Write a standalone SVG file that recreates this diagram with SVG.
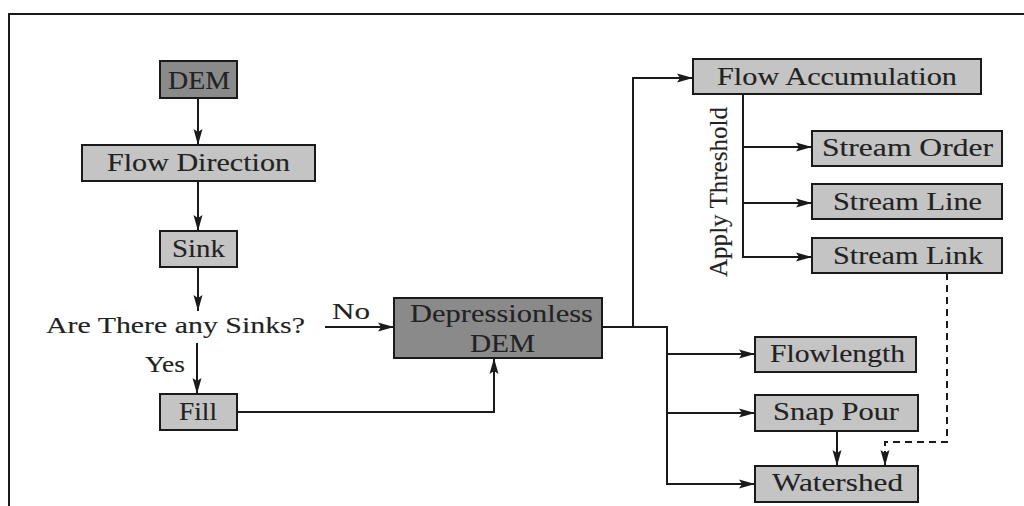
<svg xmlns="http://www.w3.org/2000/svg" width="1024" height="506" viewBox="0 0 1024 506">
<style>
.frame{fill:none;stroke:#1a1a1a;stroke-width:2}
.dark{fill:#8a8a8a;stroke:#1a1a1a;stroke-width:2}
.light{fill:#c4c4c4;stroke:#1a1a1a;stroke-width:2}
.t{font-family:"Liberation Serif","DejaVu Serif",serif;font-size:26px;fill:#222;stroke:#222;stroke-width:0.12}
.lbl{font-family:"Liberation Serif","DejaVu Serif",serif;font-size:24px;fill:#222;stroke:#222;stroke-width:0.12}
.c{fill:none;stroke:#1a1a1a;stroke-width:2}
.d{fill:none;stroke:#1a1a1a;stroke-width:2;stroke-dasharray:7 5}
</style>
<defs>
<marker id="ah" viewBox="0 0 16 11" refX="16" refY="5.5" markerWidth="16" markerHeight="11" markerUnits="userSpaceOnUse" orient="auto">
<path d="M0,1 L16,5.5 L0,10 L3,5.5 z" fill="#1a1a1a"/>
</marker>
</defs>
<rect width="1024" height="506" fill="#ffffff"/>
<path class="frame" d="M9,506 V14 H1024"/>

<g id="connectors">
<path class="c" d="M198,98 V145" marker-end="url(#ah)"/>
<path class="c" d="M198,181 V231" marker-end="url(#ah)"/>
<path class="c" d="M198,267 V311" marker-end="url(#ah)"/>
<path class="c" d="M197,343 V394" marker-end="url(#ah)"/>
<path class="c" d="M325,327 H394" marker-end="url(#ah)"/>
<path class="c" d="M237,412 H494 V358" marker-end="url(#ah)"/>
<path class="c" d="M602,327 H667 V484 H755" marker-end="url(#ah)"/>
<path class="c" d="M667,354 H755" marker-end="url(#ah)"/>
<path class="c" d="M667,413 H755" marker-end="url(#ah)"/>
<path class="c" d="M633,327 V78 H693" marker-end="url(#ah)"/>
<path class="c" d="M743,94 V257 H812" marker-end="url(#ah)"/>
<path class="c" d="M743,147 H812" marker-end="url(#ah)"/>
<path class="c" d="M743,203 H812" marker-end="url(#ah)"/>
<path class="c" d="M837,431 V466" marker-end="url(#ah)"/>
<path class="d" d="M947,273 V442 H885 V466" marker-end="url(#ah)"/>
</g>

<g id="labels">
<text class="lbl" x="46" y="333" textLength="259" lengthAdjust="spacingAndGlyphs">Are There any Sinks?</text>
<text class="lbl" x="332" y="319" textLength="38" lengthAdjust="spacingAndGlyphs">No</text>
<text class="lbl" x="145" y="372" textLength="40" lengthAdjust="spacingAndGlyphs">Yes</text>
<text class="lbl" style="font-size:26px" transform="translate(727,277) rotate(-90)" x="0" y="0" textLength="170" lengthAdjust="spacingAndGlyphs">Apply Threshold</text>
</g>

<g id="dem"><rect class="dark" x="160" y="61" width="77" height="37"/><text class="t" x="168" y="89" textLength="62" lengthAdjust="spacingAndGlyphs">DEM</text></g>
<g id="flow-direction"><rect class="light" x="82" y="145" width="233" height="36"/><text class="t" x="107" y="171" textLength="183" lengthAdjust="spacingAndGlyphs">Flow Direction</text></g>
<g id="sink"><rect class="light" x="160" y="231" width="77" height="36"/><text class="t" x="172" y="257" textLength="53" lengthAdjust="spacingAndGlyphs">Sink</text></g>
<g id="fill"><rect class="light" x="160" y="394" width="77" height="36"/><text class="t" x="179" y="420" textLength="38" lengthAdjust="spacingAndGlyphs">Fill</text></g>
<g id="depressionless-dem"><rect class="dark" x="394" y="298" width="208" height="60"/><text class="t" x="410" y="322" textLength="183" lengthAdjust="spacingAndGlyphs">Depressionless</text><text class="t" x="470" y="352" textLength="65" lengthAdjust="spacingAndGlyphs">DEM</text></g>
<g id="flow-accumulation"><rect class="light" x="693" y="59" width="288" height="35"/><text class="t" x="717" y="85" textLength="240" lengthAdjust="spacingAndGlyphs">Flow Accumulation</text></g>
<g id="stream-order"><rect class="light" x="812" y="131" width="190" height="35"/><text class="t" x="822" y="156" textLength="171" lengthAdjust="spacingAndGlyphs">Stream Order</text></g>
<g id="stream-line"><rect class="light" x="812" y="184" width="190" height="35"/><text class="t" x="833" y="210" textLength="149" lengthAdjust="spacingAndGlyphs">Stream Line</text></g>
<g id="stream-link"><rect class="light" x="812" y="238" width="190" height="35"/><text class="t" x="833" y="264" textLength="150" lengthAdjust="spacingAndGlyphs">Stream Link</text></g>
<g id="flowlength"><rect class="light" x="755" y="337" width="161" height="35"/><text class="t" x="770" y="362" textLength="135" lengthAdjust="spacingAndGlyphs">Flowlength</text></g>
<g id="snap-pour"><rect class="light" x="755" y="395" width="163" height="36"/><text class="t" x="773" y="420" textLength="126" lengthAdjust="spacingAndGlyphs">Snap Pour</text></g>
<g id="watershed"><rect class="light" x="755" y="466" width="163" height="36"/><text class="t" x="772" y="491" textLength="131" lengthAdjust="spacingAndGlyphs">Watershed</text></g>
</svg>
